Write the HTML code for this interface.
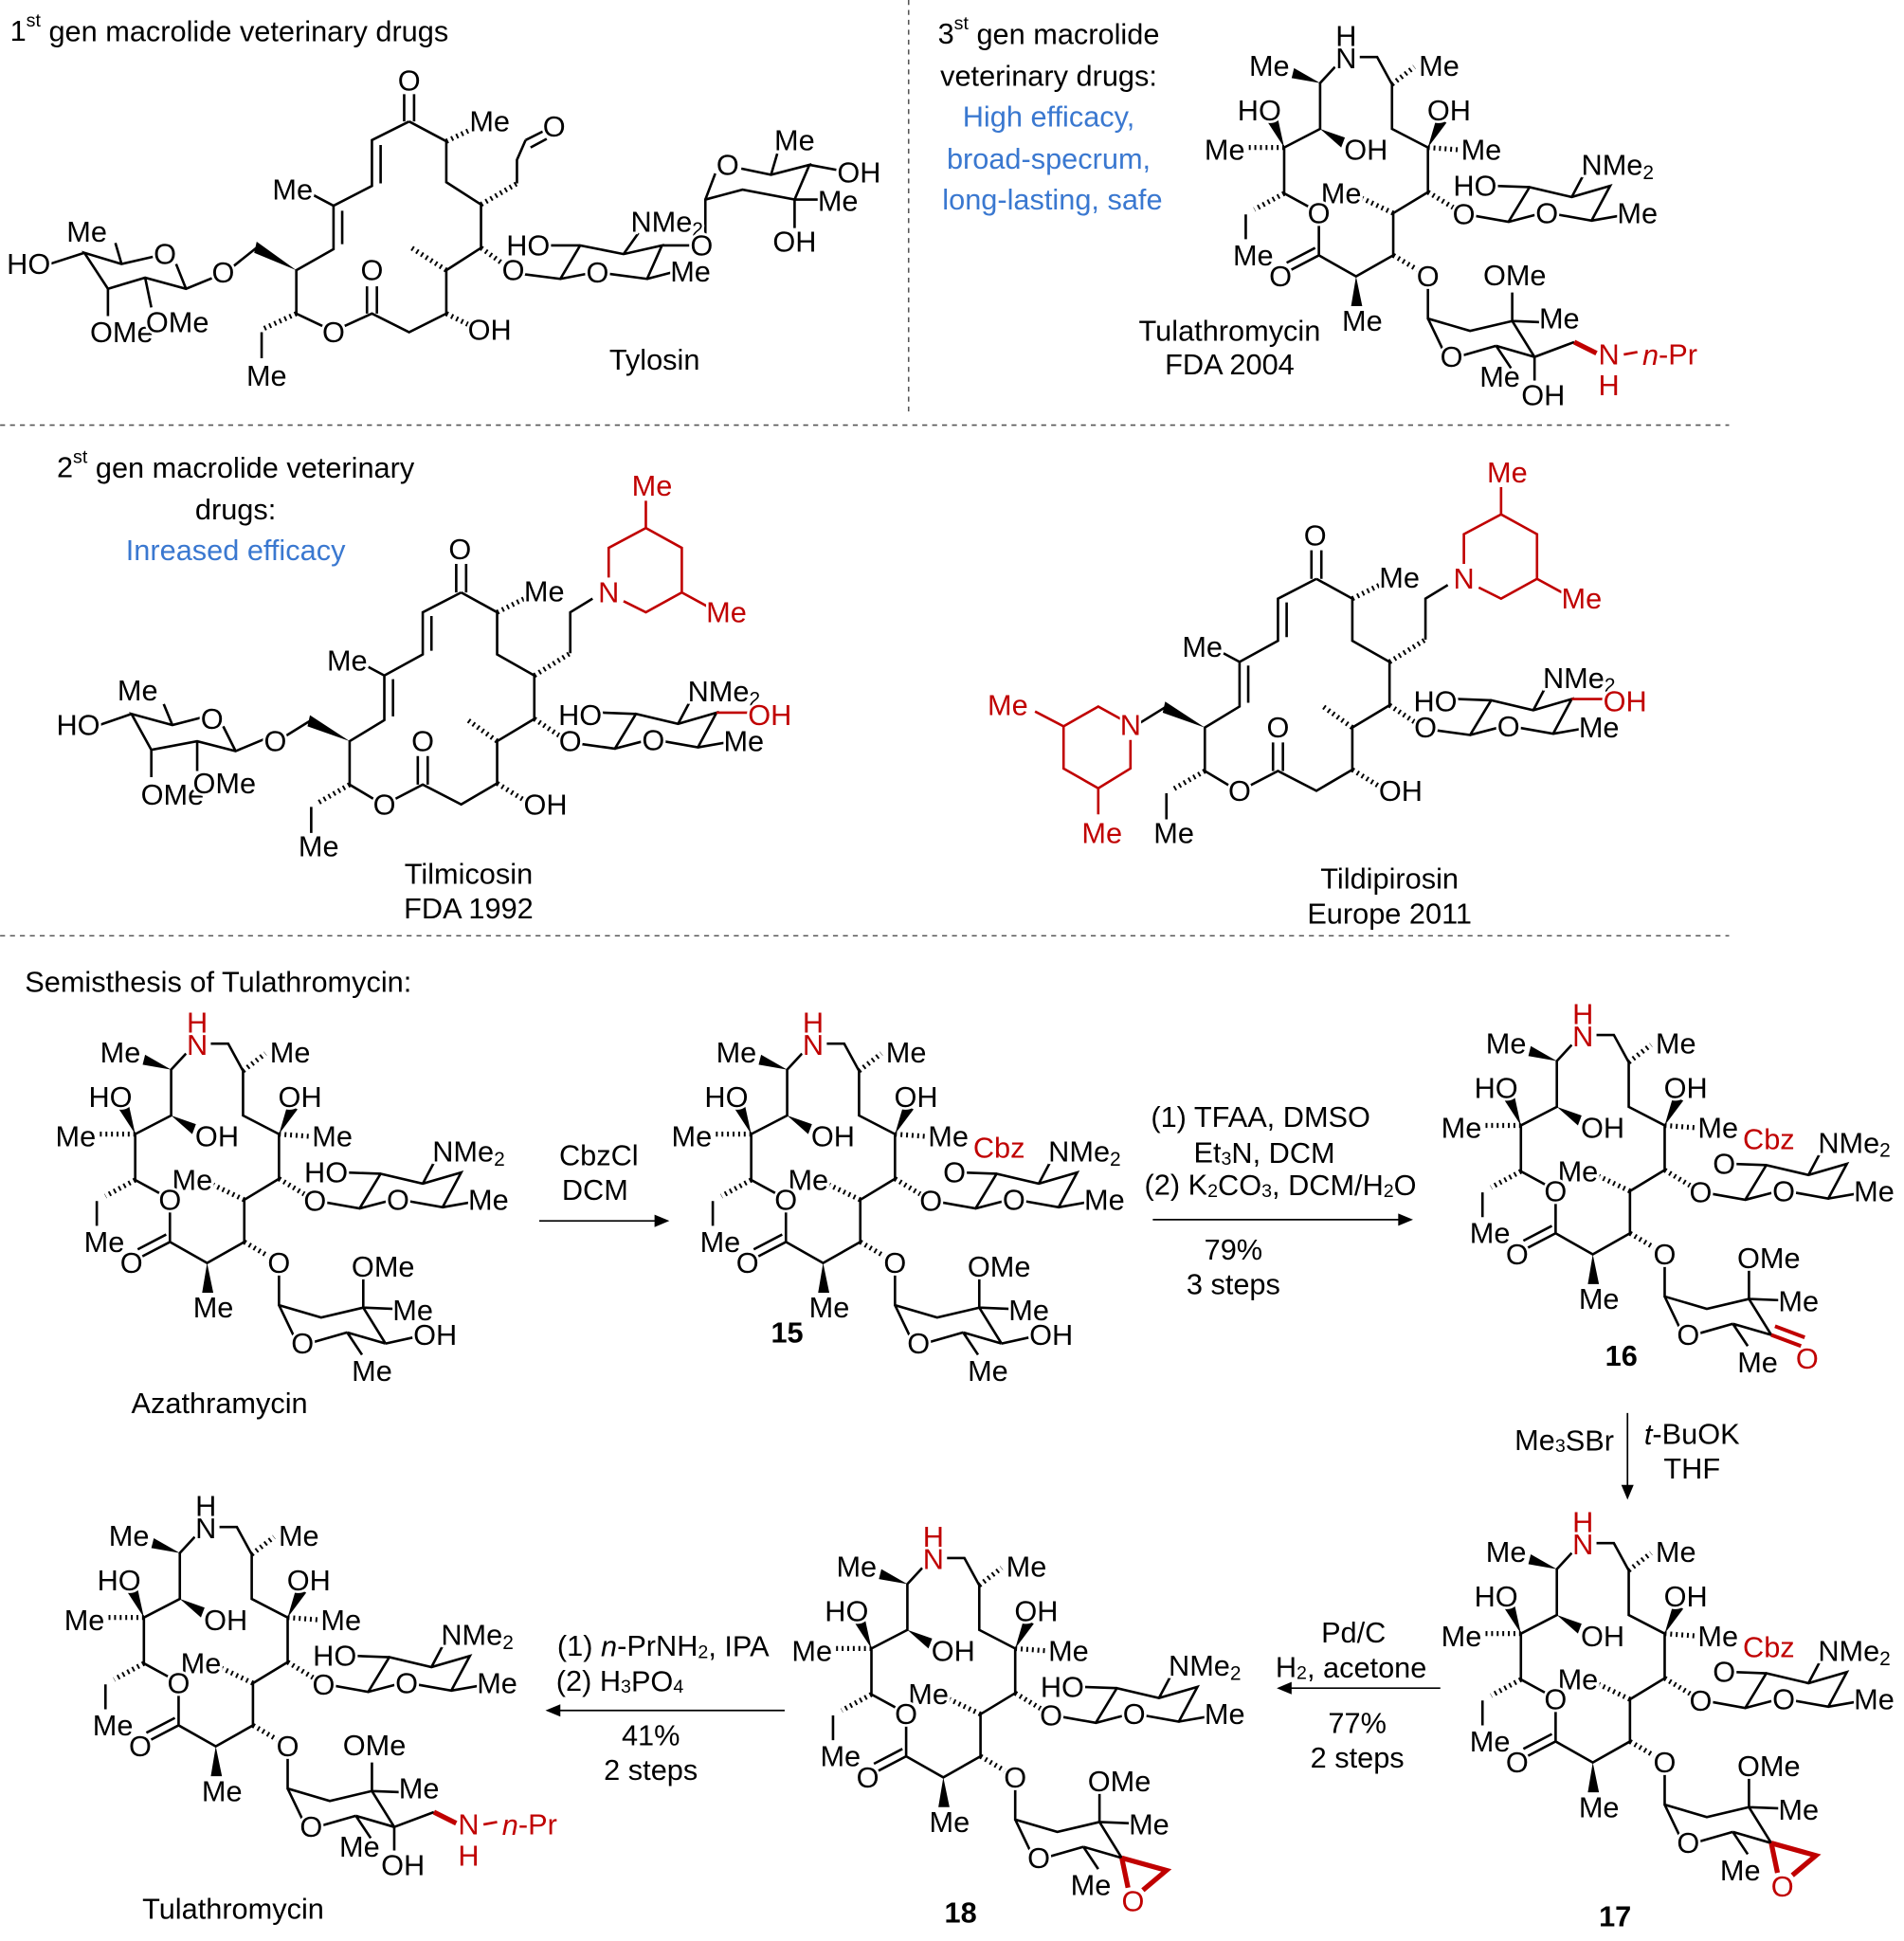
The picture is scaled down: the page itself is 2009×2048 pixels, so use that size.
<!DOCTYPE html>
<html><head><meta charset="utf-8"><style>
html,body{margin:0;padding:0;background:#fff;}
svg{display:block;}
text{font-family:"Liberation Sans",sans-serif;font-size:23.5px;fill:#000;text-anchor:middle;dominant-baseline:central;paint-order:stroke;stroke:#fff;stroke-width:4px;}
text.l{text-anchor:start;}
.r{fill:#c00000;}
.b{fill:#3a78d0;}
.bold{font-weight:bold;}
path{fill:none;stroke:#000;stroke-width:2;}
path.rd{stroke:#c00000;}
path.rb{stroke:#c00000;stroke-width:4;}
path.h{stroke-dasharray:1.5,3;stroke-width:4;}
path.ds{stroke-dasharray:4,4;stroke-width:1.2;stroke:#555;}
polygon{fill:#000;}
</style></head><body>
<svg width="2009" height="2048" viewBox="0 0 1536 1566" xmlns="http://www.w3.org/2000/svg">

<path class="ds" d="M733,0 L733,335 M0,343 L1395,343 M0,755 L1395,755"/>

<text class="l" x="8" y="25">1<tspan font-size="15" dy="-8">st</tspan><tspan dy="8"> gen macrolide veterinary drugs</tspan></text>
<text x="846" y="27">3<tspan font-size="15" dy="-8">st</tspan><tspan dy="8"> gen macrolide</tspan></text>
<text x="846" y="61">veterinary drugs:</text>
<text class="b" x="846" y="94">High efficacy,</text>
<text class="b" x="846" y="128">broad-specrum,</text>
<text class="b" x="849" y="161">long-lasting, safe</text>
<text x="992" y="267">Tulathromycin</text>
<text x="992" y="294">FDA 2004</text>
<text x="528" y="290">Tylosin</text>
<text x="190" y="377">2<tspan font-size="15" dy="-8">st</tspan><tspan dy="8"> gen macrolide veterinary</tspan></text>
<text x="190" y="411">drugs:</text>
<text class="b" x="190" y="444">Inreased efficacy</text>
<text x="378" y="705">Tilmicosin</text>
<text x="378" y="733">FDA 1992</text>
<text x="1121" y="709">Tildipirosin</text>
<text x="1121" y="737">Europe 2011</text>
<text class="l" x="20" y="792">Semisthesis of Tulathromycin:</text>
<text x="177" y="1132">Azathramycin</text>
<text x="188" y="1540">Tulathromycin</text>
<text class="bold" x="635" y="1075">15</text>
<text class="bold" x="1308" y="1094">16</text>
<text class="bold" x="1303" y="1546">17</text>
<text class="bold" x="775" y="1543">18</text>

<path d="M435,985 L532,985 M930,984 L1132,984 M1313,1140 L1313,1202 M1162,1362 L1038,1362 M633,1380 L448,1380" style="stroke-width:1.3"/>
<polygon points="540,985 528,980 528,990"/>
<polygon points="1140,984 1128,979 1128,989"/>
<polygon points="1313,1210 1308,1198 1318,1198"/>
<polygon points="1030,1362 1042,1357 1042,1367"/>
<polygon points="440,1380 452,1375 452,1385"/>
<text x="483" y="932">CbzCl</text><text x="480" y="960">DCM</text>
<text x="1017" y="901">(1) TFAA, DMSO</text>
<text x="1020" y="930">Et<tspan font-size="15" dy="5">3</tspan><tspan dy="-5">N, DCM</tspan></text>
<text x="1033" y="956">(2) K<tspan font-size="15" dy="5">2</tspan><tspan dy="-5">CO</tspan><tspan font-size="15" dy="5">3</tspan><tspan dy="-5">, DCM/H</tspan><tspan font-size="15" dy="5">2</tspan><tspan dy="-5">O</tspan></text>
<text x="995" y="1008">79%</text><text x="995" y="1036">3 steps</text>
<text x="1262" y="1162">Me<tspan font-size="15" dy="5">3</tspan><tspan dy="-5">SBr</tspan></text>
<text x="1365" y="1157"><tspan font-style="italic">t</tspan>-BuOK</text><text x="1365" y="1185">THF</text>
<text x="1092" y="1317">Pd/C</text>
<text x="1090" y="1345">H<tspan font-size="15" dy="5">2</tspan><tspan dy="-5">, acetone</tspan></text>
<text x="1095" y="1390">77%</text><text x="1095" y="1418">2 steps</text>
<text x="535" y="1328">(1) <tspan font-style="italic">n</tspan>-PrNH<tspan font-size="15" dy="5">2</tspan><tspan dy="-5">, IPA</tspan></text>
<text x="500" y="1356">(2) H<tspan font-size="15" dy="5">3</tspan><tspan dy="-5">PO</tspan><tspan font-size="15" dy="5">4</tspan></text>
<text x="525" y="1400">41%</text><text x="525" y="1428">2 steps</text>

<!-- TYLOSIN -->
<g>
<path d="M330,98 L360,114 L360,147 L388,165 L388,200 L360,218 L360,253 L330,268 L300,253 L278,263 M260,263 L239,253 L239,218 L269,201 L269,166 L300,150 L300,113 L330,98 M276,197 L276,170 M307,148 L307,117 M326,98 L326,76 M334,98 L334,76 M296,253 L296,231 M304,253 L304,231 M269,166 L252,157 M417,148 L417,129 L424,113 M424,113 L438,106 M428,119 L441,112 M211,268 L211,289 M208,199 L188,215"/>
<path class="h" d="M360,114 L383,103 M388,165 L417,148 M388,200 L406,213 M360,218 L332,200 M360,253 L380,263 M239,253 L213,265"/>
<polygon points="239,218 207,195 205,204"/>
<path d="M172,224 L150,233 L117,224 L87,233 L68,204 L98,213 L124,207 M142,213 L150,233 M117,224 L122,248 M87,233 L87,255 M68,204 L40,213 M98,213 L93,196"/>
<path d="M421,221 L452,225 L468,198 L503,205 L534,198 L522,225 L492,221 M473,221 L452,225 M468,198 L440,198 M503,205 L515,188 M522,225 L545,219 M534,198 L557,198"/>
<path d="M569,190 L569,161 L599,153 L641,161 L653,133 L622,141 L598,136 M577,140 L569,161 M641,161 L664,161 M641,161 L641,184 M653,133 L680,138 M622,141 L627,124"/>
<text x="330" y="65">O</text><text x="395" y="98">Me</text><text x="447" y="102">O</text><text x="236" y="153">Me</text>
<text x="300" y="218">O</text><text x="269" y="268">O</text><text x="395" y="266">OH</text><text x="215" y="303">Me</text>
<text x="180" y="220">O</text><text x="133" y="205">O</text><text x="70" y="187">Me</text><text x="23" y="213">HO</text>
<text x="98" y="268">OMe</text><text x="143" y="260">OMe</text>
<text x="414" y="218">O</text><text x="426" y="198">HO</text><text x="482" y="220">O</text><text x="538" y="179">NMe<tspan font-size="16" dy="6">2</tspan></text><text x="557" y="219">Me</text>
<text x="566" y="198">O</text><text x="587" y="133">O</text><text x="641" y="113">Me</text><text x="693" y="139">OH</text><text x="676" y="162">Me</text><text x="641" y="195">OH</text>
</g>

<!-- TILMICOSIN core -->
<g>
<path d="M372,478 L401,494 L401,528 L431,545 L431,580 L401,598 L401,632 L372,649 L341,633 L318,645 M302,645 L282,633 L282,598 L310,581 L310,545 L341,528 L341,494 L372,478 M317,578 L317,548 M348,525 L348,497 M368,478 L368,455 M376,478 L376,455 M337,633 L337,610 M345,633 L345,610 M310,545 L295,537 M460,527 L460,494 L478,483 M251,651 L251,672 M251,581 L230,594"/>
<path class="h" d="M401,494 L425,482 M431,545 L460,527 M431,580 L452,594 M401,598 L376,580 M401,632 L422,645 M282,633 L256,648"/>
<polygon points="282,598 250,577 248,586"/>
<path class="rd" d="M503,485 L521,494 L550,478 L550,442 L521,426 L491,442 L491,466 M521,426 L521,404 M550,478 L572,490"/>
<path d="M467,600 L496,604 L513,576 L547,584 L578,575 L563,603 L535,598 M519,598 L496,604 M513,576 L486,575 M547,584 L556,567 M563,603 L586,599"/>
<path class="rd" d="M578,575 L605,575"/>
<text x="371" y="443">O</text><text x="439" y="477">Me</text><text x="280" y="533">Me</text><text x="341" y="598">O</text>
<text x="310" y="649">O</text><text x="440" y="649">OH</text><text x="257" y="683">Me</text>
<text class="r" x="491" y="478">N</text><text class="r" x="526" y="392">Me</text><text class="r" x="586" y="494">Me</text>
<text x="460" y="598">O</text><text x="468" y="577">HO</text><text x="527" y="597">O</text><text x="584" y="558">NMe<tspan font-size="16" dy="6">2</tspan></text><text x="600" y="598">Me</text>
<text class="r" x="621" y="577">OH</text>
</g>
<path d="M214,596 L190,606 L159,598 L122,605 L106,576 L139,585 L162,579 M180,586 L190,606 M159,598 L159,622 M122,605 L122,627 M106,576 L80,585 M139,585 L132,568"/>
<text x="222" y="598">O</text><text x="171" y="580">O</text><text x="111" y="557">Me</text><text x="63" y="585">HO</text><text x="139" y="641">OMe</text><text x="181" y="632">OMe</text>

<!-- TILDIPIROSIN -->
<g transform="translate(690,-11)">
<path d="M372,478 L401,494 L401,528 L431,545 L431,580 L401,598 L401,632 L372,649 L341,633 L318,645 M302,645 L282,633 L282,598 L310,581 L310,545 L341,528 L341,494 L372,478 M317,578 L317,548 M348,525 L348,497 M368,478 L368,455 M376,478 L376,455 M337,633 L337,610 M345,633 L345,610 M310,545 L295,537 M460,527 L460,494 L478,483 M251,651 L251,672 M251,581 L230,594"/>
<path class="h" d="M401,494 L425,482 M431,545 L460,527 M431,580 L452,594 M401,598 L376,580 M401,632 L422,645 M282,633 L256,648"/>
<polygon points="282,598 250,577 248,586"/>
<path class="rd" d="M503,485 L521,494 L550,478 L550,442 L521,426 L491,442 L491,466 M521,426 L521,404 M550,478 L572,490"/>
<path d="M467,600 L496,604 L513,576 L547,584 L578,575 L563,603 L535,598 M519,598 L496,604 M513,576 L486,575 M547,584 L556,567 M563,603 L586,599"/>
<path class="rd" d="M578,575 L605,575"/>
<text x="371" y="443">O</text><text x="439" y="477">Me</text><text x="280" y="533">Me</text><text x="341" y="598">O</text>
<text x="310" y="649">O</text><text x="440" y="649">OH</text><text x="257" y="683">Me</text>
<text class="r" x="491" y="478">N</text><text class="r" x="526" y="392">Me</text><text class="r" x="586" y="494">Me</text>
<text x="460" y="598">O</text><text x="468" y="577">HO</text><text x="527" y="597">O</text><text x="584" y="558">NMe<tspan font-size="16" dy="6">2</tspan></text><text x="600" y="598">Me</text>
<text class="r" x="621" y="577">OH</text>
</g>
<path class="rd" d="M904,580 L886,570 L858,586 L858,620 L886,636 L912,620 L912,597 M858,586 L835,574 M886,636 L886,657"/>
<text class="r" x="912" y="585">N</text><text class="r" x="813" y="569">Me</text><text class="r" x="889" y="672">Me</text>

<!-- 1 Azathramycin -->
<g transform="translate(0,0)">
<path d="M150,850 L138,863 L138,900 L109,915 L109,952 L131,964 M137,976 L137,1002 L167,1019 L197,1002 L197,968 L225,951 L225,915 L196,900 L196,864 L184,842 L170,842 M137,1002 L114,1014 M134,996 L111,1008 M262,970 L290,975 L307,947 L341,955 L372,946 L357,974 L329,969 M313,969 L290,975 M341,955 L350,938 M357,974 L380,970 M225,1028 L225,1053 L259,1063 L293,1055 L293,1032 M293,1055 L318,1056 M293,1055 L311,1084 M280,1075 L292,1093 M280,1075 L252,1083 M237,1078 L225,1053 M311,1084 L280,1075 M78,969 L78,989"/>
<path class="h" d="M109,915 L78,915 M225,915 L252,917 M196,864 L214,850 M197,968 L172,956 M225,951 L248,965 M197,1002 L219,1015 M109,952 L85,965"/>
<polygon points="138,863 117,851 115,859"/><polygon points="109,915 96,895 104,892"/><polygon points="138,900 158,907 155,915"/><polygon points="225,915 232,891 240,895"/><polygon points="167,1019 163,1043 172,1043"/>
<text x="97" y="849">Me</text><text x="234" y="849">Me</text><text x="89" y="885">HO</text><text x="242" y="885">OH</text><text x="61" y="917">Me</text><text x="175" y="917">OH</text><text x="268" y="917">Me</text><text x="155" y="952">Me</text><text x="137" y="968">O</text><text x="378" y="929">NMe<tspan font-size="16" dy="6">2</tspan></text><text x="254" y="969">O</text><text x="321" y="968">O</text><text x="394" y="968">Me</text><text x="84" y="1002">Me</text><text x="106" y="1019">O</text><text x="225" y="1019">O</text><text x="172" y="1055">Me</text><text x="309" y="1022">OMe</text><text x="333" y="1057">Me</text><text x="244" y="1084">O</text><text x="300" y="1106">Me</text>
<text class="r" x="159" y="843">N</text><text class="r" x="159" y="825">H</text>
<path d="M280,946 L307,947 M311,1084 L338,1078"/><text x="263" y="946">HO</text><text x="351" y="1077">OH</text>
</g>
<!-- 2 compound 15 -->
<g transform="translate(497,0)">
<path d="M150,850 L138,863 L138,900 L109,915 L109,952 L131,964 M137,976 L137,1002 L167,1019 L197,1002 L197,968 L225,951 L225,915 L196,900 L196,864 L184,842 L170,842 M137,1002 L114,1014 M134,996 L111,1008 M262,970 L290,975 L307,947 L341,955 L372,946 L357,974 L329,969 M313,969 L290,975 M341,955 L350,938 M357,974 L380,970 M225,1028 L225,1053 L259,1063 L293,1055 L293,1032 M293,1055 L318,1056 M293,1055 L311,1084 M280,1075 L292,1093 M280,1075 L252,1083 M237,1078 L225,1053 M311,1084 L280,1075 M78,969 L78,989"/>
<path class="h" d="M109,915 L78,915 M225,915 L252,917 M196,864 L214,850 M197,968 L172,956 M225,951 L248,965 M197,1002 L219,1015 M109,952 L85,965"/>
<polygon points="138,863 117,851 115,859"/><polygon points="109,915 96,895 104,892"/><polygon points="138,900 158,907 155,915"/><polygon points="225,915 232,891 240,895"/><polygon points="167,1019 163,1043 172,1043"/>
<text x="97" y="849">Me</text><text x="234" y="849">Me</text><text x="89" y="885">HO</text><text x="242" y="885">OH</text><text x="61" y="917">Me</text><text x="175" y="917">OH</text><text x="268" y="917">Me</text><text x="155" y="952">Me</text><text x="137" y="968">O</text><text x="378" y="929">NMe<tspan font-size="16" dy="6">2</tspan></text><text x="254" y="969">O</text><text x="321" y="968">O</text><text x="394" y="968">Me</text><text x="84" y="1002">Me</text><text x="106" y="1019">O</text><text x="225" y="1019">O</text><text x="172" y="1055">Me</text><text x="309" y="1022">OMe</text><text x="333" y="1057">Me</text><text x="244" y="1084">O</text><text x="300" y="1106">Me</text>
<text class="r" x="159" y="843">N</text><text class="r" x="159" y="825">H</text>
<path d="M280,946 L307,947 M311,1084 L338,1078"/><text x="273" y="946">O</text><text class="r" x="309" y="926">Cbz</text><text x="351" y="1077">OH</text>
</g>
<!-- 3 compound 16 -->
<g transform="translate(1118,-7)">
<path d="M150,850 L138,863 L138,900 L109,915 L109,952 L131,964 M137,976 L137,1002 L167,1019 L197,1002 L197,968 L225,951 L225,915 L196,900 L196,864 L184,842 L170,842 M137,1002 L114,1014 M134,996 L111,1008 M262,970 L290,975 L307,947 L341,955 L372,946 L357,974 L329,969 M313,969 L290,975 M341,955 L350,938 M357,974 L380,970 M225,1028 L225,1053 L259,1063 L293,1055 L293,1032 M293,1055 L318,1056 M293,1055 L311,1084 M280,1075 L292,1093 M280,1075 L252,1083 M237,1078 L225,1053 M311,1084 L280,1075 M78,969 L78,989"/>
<path class="h" d="M109,915 L78,915 M225,915 L252,917 M196,864 L214,850 M197,968 L172,956 M225,951 L248,965 M197,1002 L219,1015 M109,952 L85,965"/>
<polygon points="138,863 117,851 115,859"/><polygon points="109,915 96,895 104,892"/><polygon points="138,900 158,907 155,915"/><polygon points="225,915 232,891 240,895"/><polygon points="167,1019 163,1043 172,1043"/>
<text x="97" y="849">Me</text><text x="234" y="849">Me</text><text x="89" y="885">HO</text><text x="242" y="885">OH</text><text x="61" y="917">Me</text><text x="175" y="917">OH</text><text x="268" y="917">Me</text><text x="155" y="952">Me</text><text x="137" y="968">O</text><text x="378" y="929">NMe<tspan font-size="16" dy="6">2</tspan></text><text x="254" y="969">O</text><text x="321" y="968">O</text><text x="394" y="968">Me</text><text x="84" y="1002">Me</text><text x="106" y="1019">O</text><text x="225" y="1019">O</text><text x="172" y="1055">Me</text><text x="309" y="1022">OMe</text><text x="333" y="1057">Me</text><text x="244" y="1084">O</text><text x="300" y="1106">Me</text>
<text class="r" x="159" y="843">N</text><text class="r" x="159" y="825">H</text>
<path d="M280,946 L307,947"/><text x="273" y="946">O</text><text class="r" x="309" y="926">Cbz</text>
<path class="rb" d="M311,1084 L335,1093 M314,1077 L338,1086" style="stroke-width:3"/><text class="r" x="340" y="1103">O</text>
</g>
<!-- 4 compound 17 -->
<g transform="translate(1118,403)">
<path d="M150,850 L138,863 L138,900 L109,915 L109,952 L131,964 M137,976 L137,1002 L167,1019 L197,1002 L197,968 L225,951 L225,915 L196,900 L196,864 L184,842 L170,842 M137,1002 L114,1014 M134,996 L111,1008 M262,970 L290,975 L307,947 L341,955 L372,946 L357,974 L329,969 M313,969 L290,975 M341,955 L350,938 M357,974 L380,970 M225,1028 L225,1053 L259,1063 L293,1055 L293,1032 M293,1055 L318,1056 M293,1055 L311,1084 M280,1075 L292,1093 M280,1075 L252,1083 M237,1078 L225,1053 M311,1084 L280,1075 M78,969 L78,989"/>
<path class="h" d="M109,915 L78,915 M225,915 L252,917 M196,864 L214,850 M197,968 L172,956 M225,951 L248,965 M197,1002 L219,1015 M109,952 L85,965"/>
<polygon points="138,863 117,851 115,859"/><polygon points="109,915 96,895 104,892"/><polygon points="138,900 158,907 155,915"/><polygon points="225,915 232,891 240,895"/><polygon points="167,1019 163,1043 172,1043"/>
<text x="97" y="849">Me</text><text x="234" y="849">Me</text><text x="89" y="885">HO</text><text x="242" y="885">OH</text><text x="61" y="917">Me</text><text x="175" y="917">OH</text><text x="268" y="917">Me</text><text x="155" y="952">Me</text><text x="137" y="968">O</text><text x="378" y="929">NMe<tspan font-size="16" dy="6">2</tspan></text><text x="254" y="969">O</text><text x="321" y="968">O</text><text x="394" y="968">Me</text><text x="84" y="1002">Me</text><text x="106" y="1019">O</text><text x="225" y="1019">O</text><text x="172" y="1055">Me</text><text x="309" y="1022">OMe</text><text x="333" y="1057">Me</text><text x="244" y="1084">O</text><text x="286" y="1106">Me</text>
<text class="r" x="159" y="843">N</text><text class="r" x="159" y="825">H</text>
<path d="M280,946 L307,947"/><text x="273" y="946">O</text><text class="r" x="309" y="926">Cbz</text>
<path class="rb" d="M311,1084 L347,1094 L328,1110 M311,1084 L316,1108"/><text class="r" x="320" y="1119">O</text>
</g>
<!-- 5 compound 18 -->
<g transform="translate(594,415)">
<path d="M150,850 L138,863 L138,900 L109,915 L109,952 L131,964 M137,976 L137,1002 L167,1019 L197,1002 L197,968 L225,951 L225,915 L196,900 L196,864 L184,842 L170,842 M137,1002 L114,1014 M134,996 L111,1008 M262,970 L290,975 L307,947 L341,955 L372,946 L357,974 L329,969 M313,969 L290,975 M341,955 L350,938 M357,974 L380,970 M225,1028 L225,1053 L259,1063 L293,1055 L293,1032 M293,1055 L318,1056 M293,1055 L311,1084 M280,1075 L292,1093 M280,1075 L252,1083 M237,1078 L225,1053 M311,1084 L280,1075 M78,969 L78,989"/>
<path class="h" d="M109,915 L78,915 M225,915 L252,917 M196,864 L214,850 M197,968 L172,956 M225,951 L248,965 M197,1002 L219,1015 M109,952 L85,965"/>
<polygon points="138,863 117,851 115,859"/><polygon points="109,915 96,895 104,892"/><polygon points="138,900 158,907 155,915"/><polygon points="225,915 232,891 240,895"/><polygon points="167,1019 163,1043 172,1043"/>
<text x="97" y="849">Me</text><text x="234" y="849">Me</text><text x="89" y="885">HO</text><text x="242" y="885">OH</text><text x="61" y="917">Me</text><text x="175" y="917">OH</text><text x="268" y="917">Me</text><text x="155" y="952">Me</text><text x="137" y="968">O</text><text x="378" y="929">NMe<tspan font-size="16" dy="6">2</tspan></text><text x="254" y="969">O</text><text x="321" y="968">O</text><text x="394" y="968">Me</text><text x="84" y="1002">Me</text><text x="106" y="1019">O</text><text x="225" y="1019">O</text><text x="172" y="1055">Me</text><text x="309" y="1022">OMe</text><text x="333" y="1057">Me</text><text x="244" y="1084">O</text><text x="286" y="1106">Me</text>
<text class="r" x="159" y="843">N</text><text class="r" x="159" y="825">H</text>
<path d="M280,946 L307,947"/><text x="263" y="946">HO</text>
<path class="rb" d="M311,1084 L347,1094 L328,1110 M311,1084 L316,1108"/><text class="r" x="320" y="1119">O</text>
</g>
<!-- 6 Tulathromycin bottom -->
<g transform="translate(7,390)">
<path d="M150,850 L138,863 L138,900 L109,915 L109,952 L131,964 M137,976 L137,1002 L167,1019 L197,1002 L197,968 L225,951 L225,915 L196,900 L196,864 L184,842 L170,842 M137,1002 L114,1014 M134,996 L111,1008 M262,970 L290,975 L307,947 L341,955 L372,946 L357,974 L329,969 M313,969 L290,975 M341,955 L350,938 M357,974 L380,970 M225,1028 L225,1053 L259,1063 L293,1055 L293,1032 M293,1055 L318,1056 M293,1055 L311,1084 M280,1075 L292,1093 M280,1075 L252,1083 M237,1078 L225,1053 M311,1084 L280,1075 M78,969 L78,989"/>
<path class="h" d="M109,915 L78,915 M225,915 L252,917 M196,864 L214,850 M197,968 L172,956 M225,951 L248,965 M197,1002 L219,1015 M109,952 L85,965"/>
<polygon points="138,863 117,851 115,859"/><polygon points="109,915 96,895 104,892"/><polygon points="138,900 158,907 155,915"/><polygon points="225,915 232,891 240,895"/><polygon points="167,1019 163,1043 172,1043"/>
<text x="97" y="849">Me</text><text x="234" y="849">Me</text><text x="89" y="885">HO</text><text x="242" y="885">OH</text><text x="61" y="917">Me</text><text x="175" y="917">OH</text><text x="268" y="917">Me</text><text x="155" y="952">Me</text><text x="137" y="968">O</text><text x="378" y="929">NMe<tspan font-size="16" dy="6">2</tspan></text><text x="254" y="969">O</text><text x="321" y="968">O</text><text x="394" y="968">Me</text><text x="84" y="1002">Me</text><text x="106" y="1019">O</text><text x="225" y="1019">O</text><text x="172" y="1055">Me</text><text x="295" y="1018">OMe</text><text x="331" y="1053">Me</text><text x="244" y="1084">O</text><text x="283" y="1100">Me</text>
<text x="159" y="843">N</text><text x="159" y="825">H</text>
<path d="M280,946 L307,947 M311,1084 L311,1103 M311,1084 L343,1072"/><text x="263" y="946">HO</text><text x="318" y="1115">OH</text>
<path class="rb" d="M343,1072 L361,1081"/><path class="rd" d="M383,1082 L394,1080"/>
<text class="r" x="371" y="1082">N</text><text class="r" x="371" y="1107">H</text><text class="r l" x="398" y="1082"><tspan font-style="italic">n</tspan>-Pr</text>
</g>
<!-- 7 Tulathromycin top -->
<g transform="translate(927,-796)">
<path d="M150,850 L138,863 L138,900 L109,915 L109,952 L131,964 M137,976 L137,1002 L167,1019 L197,1002 L197,968 L225,951 L225,915 L196,900 L196,864 L184,842 L170,842 M137,1002 L114,1014 M134,996 L111,1008 M262,970 L290,975 L307,947 L341,955 L372,946 L357,974 L329,969 M313,969 L290,975 M341,955 L350,938 M357,974 L380,970 M225,1028 L225,1053 L259,1063 L293,1055 L293,1032 M293,1055 L318,1056 M293,1055 L311,1084 M280,1075 L292,1093 M280,1075 L252,1083 M237,1078 L225,1053 M311,1084 L280,1075 M78,969 L78,989"/>
<path class="h" d="M109,915 L78,915 M225,915 L252,917 M196,864 L214,850 M197,968 L172,956 M225,951 L248,965 M197,1002 L219,1015 M109,952 L85,965"/>
<polygon points="138,863 117,851 115,859"/><polygon points="109,915 96,895 104,892"/><polygon points="138,900 158,907 155,915"/><polygon points="225,915 232,891 240,895"/><polygon points="167,1019 163,1043 172,1043"/>
<text x="97" y="849">Me</text><text x="234" y="849">Me</text><text x="89" y="885">HO</text><text x="242" y="885">OH</text><text x="61" y="917">Me</text><text x="175" y="917">OH</text><text x="268" y="917">Me</text><text x="155" y="952">Me</text><text x="137" y="968">O</text><text x="378" y="929">NMe<tspan font-size="16" dy="6">2</tspan></text><text x="254" y="969">O</text><text x="321" y="968">O</text><text x="394" y="968">Me</text><text x="84" y="1002">Me</text><text x="106" y="1019">O</text><text x="225" y="1019">O</text><text x="172" y="1055">Me</text><text x="295" y="1018">OMe</text><text x="331" y="1053">Me</text><text x="244" y="1084">O</text><text x="283" y="1100">Me</text>
<text x="159" y="843">N</text><text x="159" y="825">H</text>
<path d="M280,946 L307,947 M311,1084 L311,1103 M311,1084 L343,1072"/><text x="263" y="946">HO</text><text x="318" y="1115">OH</text>
<path class="rb" d="M343,1072 L361,1081"/><path class="rd" d="M383,1082 L394,1080"/>
<text class="r" x="371" y="1082">N</text><text class="r" x="371" y="1107">H</text><text class="r l" x="398" y="1082"><tspan font-style="italic">n</tspan>-Pr</text>
</g>

</svg>
</body></html>
